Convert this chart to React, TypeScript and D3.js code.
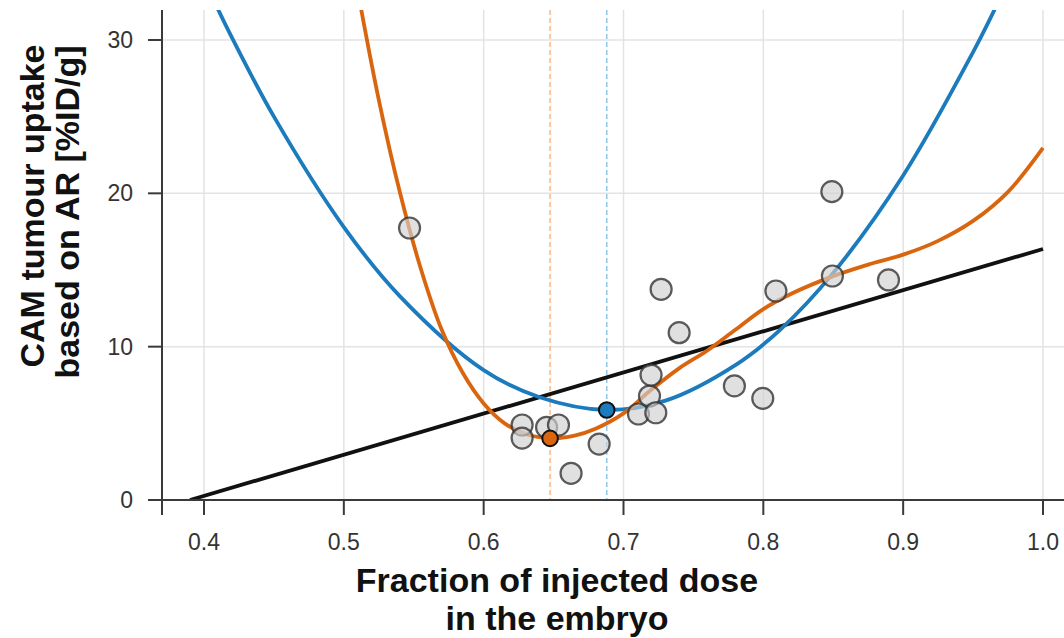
import React from "react";
import * as d3 from "d3";

// ---- data ----
const pointX = [0.547, 0.6275, 0.6275, 0.645, 0.6535, 0.6625, 0.6826, 0.7107, 0.7186, 0.7197, 0.7231, 0.7269, 0.7398, 0.7793, 0.7996, 0.809, 0.849, 0.8494, 0.8895];
const pointY = [17.74, 4.89, 4.04, 4.74, 4.89, 1.74, 3.65, 5.61, 6.78, 8.15, 5.69, 13.74, 10.91, 7.44, 6.63, 13.63, 20.11, 14.61, 14.35];

const blueCurveX = [0.409, 0.42, 0.45, 0.5, 0.54, 0.6, 0.64, 0.688, 0.73, 0.78, 0.812, 0.85, 0.9, 0.95, 0.966];
const blueCurveY = [32.2, 30.15, 25.0, 17.8, 13.3, 8.47, 6.7, 5.87, 6.48, 8.8, 11.1, 14.81, 21.16, 29.21, 32.1];

const orangeCurveX = [0.512, 0.525, 0.54, 0.555, 0.57, 0.585, 0.6, 0.615, 0.63, 0.648, 0.665, 0.68, 0.7, 0.72, 0.74, 0.76, 0.78, 0.8, 0.82, 0.85, 0.875, 0.9, 0.925, 0.95, 0.975, 1.0];
const orangeCurveY = [32.2, 26.1, 20.1, 15.1, 11.1, 8.3, 6.3, 5.0, 4.3, 4.02, 4.2, 4.65, 5.65, 7.2, 8.6, 9.75, 11.1, 12.45, 13.45, 14.6, 15.35, 16.0, 16.9, 18.2, 20.1, 22.96];

const blackLineX = [0.39, 1.0];
const blackLineY = [0, 16.37];

const orangeMin = { x: 0.6475, y: 4.02 };
const blueMin = { x: 0.688, y: 5.87 };

const xTicks = [0.4, 0.5, 0.6, 0.7, 0.8, 0.9, 1.0];
const yTicks = [0, 10, 20, 30];

const xTitle = ["Fraction of injected dose", "in the embryo"];
const yTitle = ["CAM tumour uptake", "based on AR [%ID/g]"];

const BLUE = "#1b7bbd";
const ORANGE = "#d9660f";

export default function App() {
  const W = 1064;
  const H = 638;
  const x = d3.scaleLinear().domain([0.4, 1.0]).range([204, 1043]);
  const y = d3.scaleLinear().domain([0, 30]).range([500, 40]);
  const plotLeft = 162;
  const plotRight = W;
  const plotTop = 10;
  const plotBottom = 500;

  const line = d3
    .line<[number, number]>()
    .x((d) => x(d[0]))
    .y((d) => y(d[1]))
    .curve(d3.curveCatmullRom.alpha(0.5));

  const zip = (a: number[], b: number[]) => a.map((v, i) => [v, b[i]] as [number, number]);

  const font = "'Liberation Sans', Arial, Helvetica, sans-serif";
  const tickColor = "#3a3a3a";

  return (
    <svg width={W} height={H} style={{ position: "absolute", left: 0, top: 0, display: "block", background: "#fff" }}>
      <defs>
        <clipPath id="plot">
          <rect x={plotLeft} y={plotTop} width={plotRight - plotLeft} height={plotBottom - plotTop} />
        </clipPath>
      </defs>
      {/* grid */}
      {xTicks.map((t) => (
        <line key={"gx" + t} x1={x(t)} x2={x(t)} y1={plotTop} y2={plotBottom} stroke="#e3e3e3" strokeWidth={1.5} />
      ))}
      {yTicks.filter((t) => t > 0).map((t) => (
        <line key={"gy" + t} x1={plotLeft} x2={plotRight} y1={y(t)} y2={y(t)} stroke="#e3e3e3" strokeWidth={1.5} />
      ))}
      {/* dashed optimum lines */}
      <line x1={x(orangeMin.x)} x2={x(orangeMin.x)} y1={plotTop} y2={plotBottom} stroke="#f3b98f" strokeWidth={1.5} strokeDasharray="5,3" />
      <line x1={x(blueMin.x)} x2={x(blueMin.x)} y1={plotTop} y2={plotBottom} stroke="#93c4e6" strokeWidth={1.5} strokeDasharray="5,3" />

      {/* curves */}
      <g clipPath="url(#plot)">
        <path d={line(zip(blackLineX, blackLineY)) || ""} fill="none" stroke="#111" strokeWidth={3.8} />
        <path d={line(zip(blueCurveX, blueCurveY)) || ""} fill="none" stroke={BLUE} strokeWidth={3.8} />
        <path d={line(zip(orangeCurveX, orangeCurveY)) || ""} fill="none" stroke={ORANGE} strokeWidth={3.8} />
      </g>

      {/* points */}
      {pointX.map((px, i) => (
        <circle key={"p" + i} cx={x(px)} cy={y(pointY[i])} r={10.5} fill="#cfcfcf" fillOpacity={0.65} stroke="#333" strokeOpacity={0.8} strokeWidth={2.2} />
      ))}
      <circle cx={x(orangeMin.x)} cy={y(orangeMin.y)} r={7.8} fill={ORANGE} stroke="#111" strokeWidth={2} />
      <circle cx={x(blueMin.x)} cy={y(blueMin.y)} r={7.8} fill={BLUE} stroke="#111" strokeWidth={2} />

      {/* axes */}
      <line x1={plotLeft} x2={plotLeft} y1={plotTop} y2={515} stroke={tickColor} strokeWidth={2} />
      <line x1={148} x2={plotRight} y1={plotBottom} y2={plotBottom} stroke={tickColor} strokeWidth={2} />
      {yTicks.map((t) => (
        <g key={"yt" + t}>
          <line x1={148} x2={plotLeft} y1={y(t)} y2={y(t)} stroke={tickColor} strokeWidth={2} />
          <text x={133} y={y(t)} dy="0.35em" textAnchor="end" fontFamily={font} fontSize={23} fill="#333">
            {t}
          </text>
        </g>
      ))}
      {xTicks.map((t) => (
        <g key={"xt" + t}>
          <line x1={x(t)} x2={x(t)} y1={plotBottom} y2={515} stroke={tickColor} strokeWidth={2} />
          <text x={x(t)} y={550} textAnchor="middle" fontFamily={font} fontSize={23} fill="#333">
            {t.toFixed(1)}
          </text>
        </g>
      ))}

      {/* titles */}
      <text x={557} y={592} textAnchor="middle" fontFamily={font} fontWeight="bold" fontSize={34} fill="#111">
        {xTitle[0]}
      </text>
      <text x={557} y={630} textAnchor="middle" fontFamily={font} fontWeight="bold" fontSize={34} fill="#111">
        {xTitle[1]}
      </text>
      <g transform="translate(44,206) rotate(-90)">
        <text x={0} y={0} textAnchor="middle" fontFamily={font} fontWeight="bold" fontSize={34} fill="#111">
          {yTitle[0]}
        </text>
      </g>
      <g transform="translate(79,212) rotate(-90)">
        <text x={0} y={0} textAnchor="middle" fontFamily={font} fontWeight="bold" fontSize={34} fill="#111">
          {yTitle[1]}
        </text>
      </g>
    </svg>
  );
}
